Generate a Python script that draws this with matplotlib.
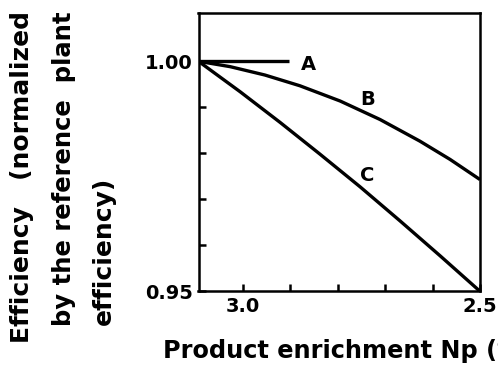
import numpy as np
import matplotlib
matplotlib.use('Agg')
import matplotlib.pyplot as plt

# curves (x axis runs from high to low enrichment)
xA = [3.094, 2.902]
yA = [1.000, 1.000]

xB = [3.094, 3.027, 2.954, 2.880, 2.795, 2.711, 2.627, 2.563, 2.500]
yB = [1.000, 0.99883, 0.99702, 0.99468, 0.99136, 0.98735, 0.98265, 0.97866, 0.97429]

xC = [3.094, 3.006, 2.922, 2.838, 2.753, 2.669, 2.584, 2.500]
yC = [1.000, 0.99337, 0.98673, 0.97984, 0.97271, 0.96533, 0.95770, 0.95000]

xticks = [3.0, 2.9, 2.8, 2.7, 2.6, 2.5]
xlabels = ['3.0', '', '', '', '', '2.5']
yticks = [0.95, 0.96, 0.97, 0.98, 0.99, 1.00]
ylabels = ['0.95', '', '', '', '', '1.00']

plt.rcParams['font.family'] = 'DejaVu Sans'
plt.rcParams['font.weight'] = 'bold'

fig = plt.figure(figsize=(4.98, 3.67), dpi=100)
ax = fig.add_axes([198.5/498., 1 - 291.3/367., (480-198.5)/498., (291.3-13)/367.])

for xs, ys in [(xA, yA), (xB, yB), (xC, yC)]:
    ax.plot(xs, ys, color='black', lw=2.4, solid_capstyle='butt')

ax.set_xlim(3.094, 2.5)
ax.set_ylim(0.95, 1.0105)
ax.set_xticks(xticks)
ax.set_xticklabels(xlabels)
ax.set_yticks(yticks)
ax.set_yticklabels(ylabels)
ax.tick_params(direction='in', length=5, width=1.8, labelsize=14, pad=4)
for lab in ax.get_xticklabels() + ax.get_yticklabels():
    lab.set_fontweight('bold')
for s in ax.spines.values():
    s.set_linewidth(1.8)

ax.text(2.863, 0.9992, 'A', fontsize=14, fontweight='bold', ha='center', va='center')
ax.text(2.737, 0.99174, 'B', fontsize=14, fontweight='bold', ha='center', va='center')
ax.text(2.739, 0.97528, 'C', fontsize=14, fontweight='bold', ha='center', va='center')

fig.text(163/498., 1 - 358/367., 'Product enrichment Np (%)', fontsize=17.3,
         fontweight='bold', ha='left', va='baseline')

for xp, yb, fs, s in [(22, 343, 18, 'Efficiency   (normalized'),
                      (64, 326, 17.5, 'by the reference  plant'),
                      (104, 325, 18, 'efficiency)')]:
    fig.text(xp/498., 1 - yb/367., s, fontsize=fs, fontweight='bold',
             rotation=90, ha='center', va='bottom')

fig.savefig('out.png', dpi=100)
